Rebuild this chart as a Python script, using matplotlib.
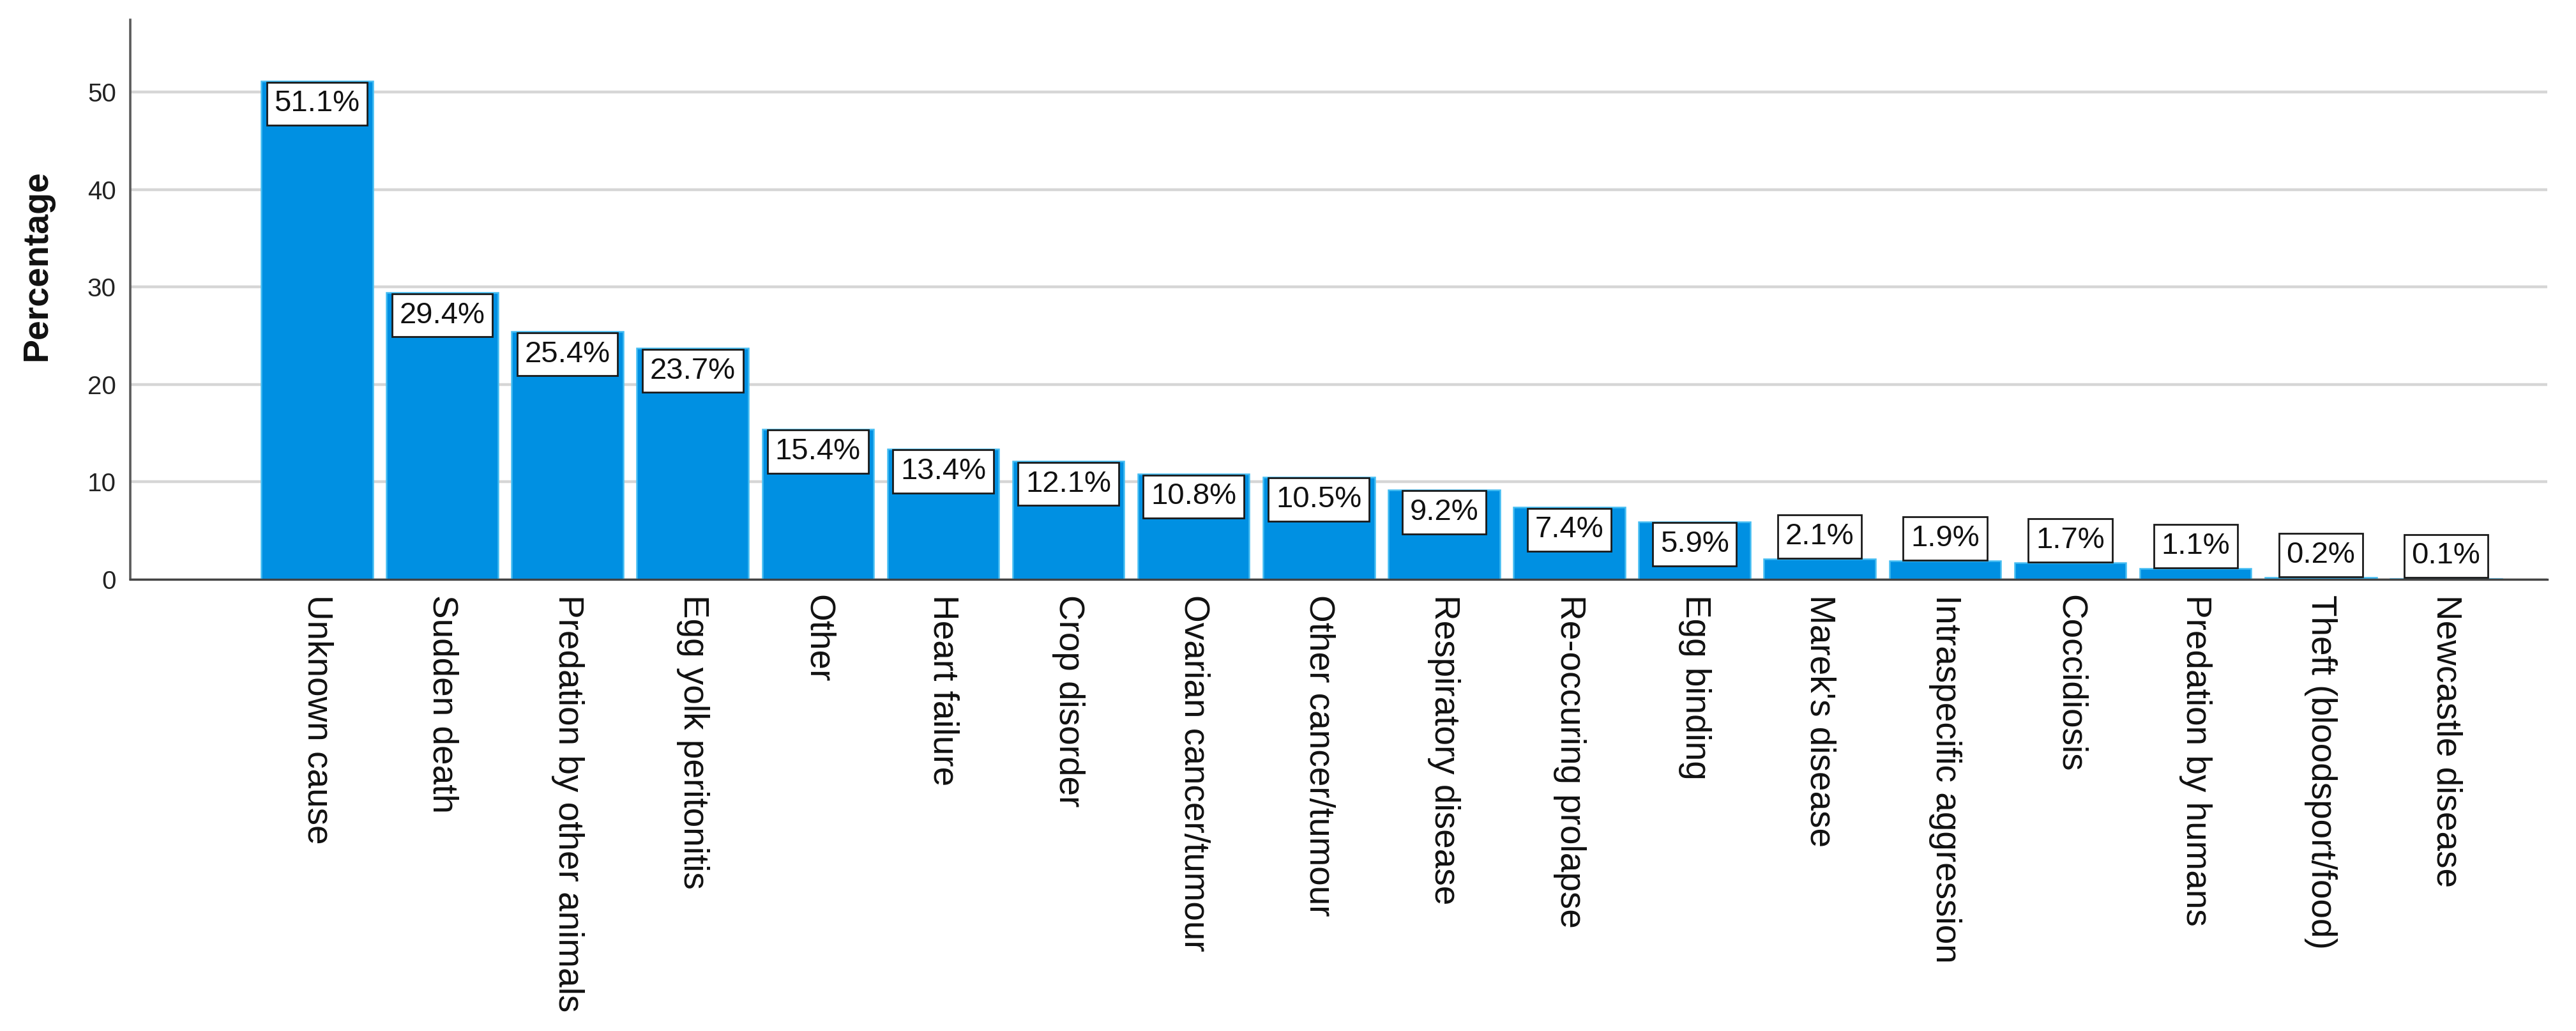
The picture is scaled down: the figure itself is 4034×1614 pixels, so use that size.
import matplotlib
matplotlib.use("Agg")
import matplotlib.pyplot as plt
import numpy as np

plt.rcParams['font.family'] = ['Liberation Sans', 'DejaVu Sans']

# causes of death, sorted as in the chart
causes = ["Unknown cause", "Sudden death", "Predation by other animals",
          "Egg yolk peritonitis", "Other", "Heart failure", "Crop disorder",
          "Ovarian cancer/tumour", "Other cancer/tumour", "Respiratory disease",
          "Re-occuring prolapse", "Egg binding", "Marek's disease",
          "Intraspecific aggression", "Coccidiosis", "Predation by humans",
          "Theft (bloodsport/food)", "Newcastle disease"]
percent = [51.1, 29.4, 25.4, 23.7, 15.4, 13.4, 12.1, 10.8, 10.5, 9.2,
           7.4, 5.9, 2.1, 1.9, 1.7, 1.1, 0.2, 0.1]
yticks = [0, 10, 20, 30, 40, 50]

fig = plt.figure(figsize=(40.34, 16.14), dpi=100)
ax = fig.add_axes([0.0506, 0.438, 0.9383, 0.5428])

x = np.arange(len(causes))
ax.bar(x, percent, width=0.89, color='#0090e2', edgecolor='#45bdf2',
       linewidth=1.8, zorder=2)

ax.set_xlim(-1.49, 17.81)
ax.set_ylim(0, 57.4)
ax.set_yticks(yticks)
ax.yaxis.grid(True, color='#d6d6d6', linewidth=3.2, zorder=0)
ax.set_axisbelow(True)

for s in ['top', 'right']:
    ax.spines[s].set_visible(False)
ax.spines['left'].set_color('#5a5a5a')
ax.spines['left'].set_linewidth(2.6)
ax.spines['bottom'].set_color('#444444')
ax.spines['bottom'].set_linewidth(2.4)
ax.spines['bottom'].set_zorder(3)

ax.tick_params(axis='y', length=0, pad=16, labelsize=29, labelcolor='#222222')
ax.tick_params(axis='x', length=0, pad=17, labelsize=39.5, labelcolor='#111111')
ax.set_xticks(x)
ax.set_xticklabels(causes, rotation=-90, ha='center', va='top')

# value boxes: hang below bar top, or sit on top of small bars
fs = 34
pad = 0.25
for xi, v in zip(x, percent):
    if v > 5:
        va, off = 'top', -pad * fs - 1
    else:
        va, off = 'bottom', pad * fs + 1
    ax.annotate(f"{v:.1f}%", (xi, v), xytext=(0, off), textcoords='offset points',
                ha='center', va=va, fontsize=fs, color='#111111', zorder=5,
                bbox=dict(boxstyle=f'square,pad={pad}', facecolor='white',
                          edgecolor='#1a1a1a', linewidth=2.0))

fig.text(58 / 4034, 1 - 416 / 1614, 'Percentage', rotation=90, ha='center',
         va='center', fontsize=40, fontweight='bold', color='#111111')

fig.savefig('out.png', dpi=100, facecolor='white')
